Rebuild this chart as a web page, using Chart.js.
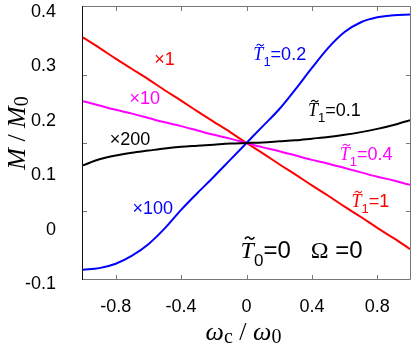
<!DOCTYPE html>
<html>
<head>
<meta charset="utf-8">
<script src="https://cdn.jsdelivr.net/npm/chart.js@4"></script>
<style>
  html, body { margin: 0; padding: 0; background: #fff; }
  #box { width: 415px; height: 345px; }
</style>
</head>
<body>
<div id="box"><canvas id="chart" width="415" height="345"></canvas></div>
<script>
// valeurs (M/M0 en fonction de wc/w0)
const xs = [-1, -0.9, -0.8, -0.7, -0.6, -0.5, -0.4, -0.3, -0.2, -0.1, 0,
            0.1, 0.2, 0.3, 0.4, 0.5, 0.6, 0.7, 0.8, 0.9, 1];
const redT1 = [0.344, 0.325, 0.305, 0.286, 0.267, 0.247, 0.228, 0.208, 0.189, 0.170, 0.150,
               0.131, 0.111, 0.092, 0.072, 0.053, 0.033, 0.014, -0.006, -0.025, -0.045];
const magentaT04 = [0.227, 0.219, 0.211, 0.204, 0.196, 0.188, 0.181, 0.173, 0.165, 0.158, 0.150,
                    0.142, 0.135, 0.127, 0.119, 0.112, 0.104, 0.096, 0.088, 0.081, 0.073];
const blackT01 = [0.109, 0.120, 0.127, 0.132, 0.136, 0.140, 0.143, 0.145, 0.147, 0.149, 0.150,
                  0.151, 0.153, 0.155, 0.158, 0.161, 0.165, 0.170, 0.176, 0.183, 0.192];
const blueT02 = [-0.083, -0.080, -0.072, -0.057, -0.036, -0.007, 0.027, 0.058, 0.088, 0.119, 0.150,
                 0.181, 0.212, 0.249, 0.288, 0.325, 0.354, 0.372, 0.381, 0.385, 0.386];

const xTicks = [-0.8, -0.4, 0, 0.4, 0.8];
const yTicks = [-0.1, 0, 0.1, 0.2, 0.3, 0.4];
const yMarks = [0.025, 0.15, 0.275];

const SANS = '"Liberation Sans", Arial, sans-serif';
const SERIF = '"Liberation Serif", "Times New Roman", serif';

// annotations : morceaux de texte ('T' = T tilde italique, 'sub' = indice, 's' = texte)
const notes = [
    { parts: [['×1', 's']], x: -0.564, y: 0.2934, color: '#ff0000' },
    { parts: [['×10', 's']], x: -0.715, y: 0.2217, color: '#ff00ff' },
    { parts: [['×200', 's']], x: -0.836, y: 0.1463, color: '#000000' },
    { parts: [['×100', 's']], x: -0.697, y: 0.0195, color: '#0000ff' },
    { parts: [['T', 'T'], ['1', 'sub'], ['=0.2', 's']], x: 0.042, y: 0.3026, color: '#0000ff' },
    { parts: [['T', 'T'], ['1', 'sub'], ['=0.1', 's']], x: 0.376, y: 0.1996, color: '#000000' },
    { parts: [['T', 'T'], ['1', 'sub'], ['=0.4', 's']], x: 0.570, y: 0.1188, color: '#ff00ff' },
    { parts: [['T', 'T'], ['1', 'sub'], ['=1', 's']], x: 0.642, y: 0.0324, color: '#ff0000' },
    { parts: [['T', 'T'], ['0', 'sub'], ['=0', 's'], ['   ', 's'], ['Ω', 'rm'], [' =0', 's']],
      x: -0.036, y: -0.0614, color: '#000000', size: 24 }
];

function fontFor(kind, size) {
    if (kind === 'T' || kind === 'it') return 'italic ' + size + 'px ' + SERIF;
    if (kind === 'rm') return size + 'px ' + SERIF;
    if (kind === 'sub') return Math.round(size * 0.7) + 'px ' + SANS;
    if (kind === 'subrm') return Math.round(size * 0.75) + 'px ' + SERIF;
    return size + 'px ' + SANS;
}

function partsWidth(ctx, parts, size) {
    let w = 0;
    parts.forEach(function (p) {
        ctx.font = fontFor(p[1], size);
        w += ctx.measureText(p[0]).width;
    });
    return w;
}

// dessine une suite de morceaux à partir de (x, y) sur la ligne de base
function drawParts(ctx, parts, x, y, size, color) {
    ctx.fillStyle = color;
    ctx.textBaseline = 'alphabetic';
    ctx.textAlign = 'left';
    parts.forEach(function (p) {
        ctx.font = fontFor(p[1], size);
        let dy = 0;
        if (p[1] === 'sub') dy = size * 0.33;
        if (p[1] === 'subrm') dy = size * 0.12;
        ctx.fillText(p[0], x, y + dy);
        let w = ctx.measureText(p[0]).width;
        if (p[1] === 'T') {
            // petite tilde au-dessus du T
            let cx = x + w * 0.68, cy = y - size * 0.83, hw = size * 0.2, amp = size * 0.07;
            ctx.save();
            ctx.strokeStyle = color;
            ctx.lineWidth = Math.max(1.1, size * 0.065);
            ctx.beginPath();
            ctx.moveTo(cx - hw, cy + amp * 0.6);
            ctx.bezierCurveTo(cx - hw * 0.5, cy - amp * 1.6, cx, cy - amp * 0.2, cx, cy);
            ctx.bezierCurveTo(cx, cy + amp * 0.2, cx + hw * 0.5, cy + amp * 1.6, cx + hw, cy - amp * 0.6);
            ctx.stroke();
            ctx.restore();
        }
        x += w;
    });
}

const frame = {
    id: 'frame',
    afterDraw(chart) {
        const ctx = chart.ctx;
        const a = chart.chartArea;
        const sx = chart.scales.x, sy = chart.scales.y;
        ctx.save();
        // cadre
        ctx.lineWidth = 1;
        ctx.strokeStyle = '#777';
        ctx.beginPath();
        ctx.moveTo(a.left, a.bottom + 0.5);
        ctx.lineTo(a.right + 0.5, a.bottom + 0.5);
        ctx.lineTo(a.right + 0.5, a.top - 0.5);
        ctx.lineTo(a.left, a.top - 0.5);
        // petites graduations vers l'intérieur
        xTicks.forEach(function (v) {
            let px = Math.round(sx.getPixelForValue(v)) + 0.5;
            ctx.moveTo(px, a.bottom);
            ctx.lineTo(px, a.bottom - 4);
            ctx.moveTo(px, a.top);
            ctx.lineTo(px, a.top + 4);
        });
        yMarks.forEach(function (v) {
            let py = Math.round(sy.getPixelForValue(v)) + 0.5;
            ctx.moveTo(a.left, py);
            ctx.lineTo(a.left + 4, py);
            ctx.moveTo(a.right, py);
            ctx.lineTo(a.right - 4, py);
        });
        ctx.stroke();
        ctx.strokeStyle = '#111';
        ctx.beginPath();
        ctx.moveTo(a.left - 0.5, a.top - 1);
        ctx.lineTo(a.left - 0.5, a.bottom + 1);
        ctx.stroke();

        // annotations
        notes.forEach(function (n) {
            drawParts(ctx, n.parts, sx.getPixelForValue(n.x), sy.getPixelForValue(n.y), n.size || 18, n.color);
        });

        // titre de l'axe x
        const xt = [['ω', 'it'], ['c', 'subrm'], [' / ', 'rm'], ['ω', 'it'], ['0', 'subrm']];
        let w = partsWidth(ctx, xt, 26);
        drawParts(ctx, xt, (a.left + a.right) / 2 - 3 - w / 2, 340, 26, '#000');

        // titre de l'axe y (tourné)
        const yt = [['M', 'it'], [' / ', 'rm'], ['M', 'it'], ['0', 'subrm']];
        w = partsWidth(ctx, yt, 26);
        ctx.translate(25, 133);
        ctx.rotate(-Math.PI / 2);
        drawParts(ctx, yt, -w / 2, 0, 26, '#000');
        ctx.restore();
    }
};

function makeSet(label, values, color) {
    return {
        label: label,
        data: xs.map(function (x, i) { return { x: x, y: values[i] }; }),
        borderColor: color,
        borderWidth: 2,
        pointRadius: 0,
        cubicInterpolationMode: 'monotone',
        fill: false
    };
}

new Chart(document.getElementById('chart').getContext('2d'), {
    type: 'line',
    data: {
        datasets: [
            makeSet('T1=0.1', blackT01, '#000000'),
            makeSet('T1=0.4', magentaT04, '#ff00ff'),
            makeSet('T1=0.2', blueT02, '#0000ff'),
            makeSet('T1=1', redT1, '#ff0000')
        ]
    },
    options: {
        responsive: false,
        animation: false,
        layout: { padding: { left: 0, top: 7, right: 5, bottom: 0 } },
        plugins: { legend: { display: false }, tooltip: { enabled: false } },
        scales: {
            x: {
                type: 'linear',
                min: -1,
                max: 1,
                afterBuildTicks: function (s) { s.ticks = xTicks.map(function (v) { return { value: v }; }); },
                afterFit: function (s) { s.height = 66; s.paddingLeft = 0; s.paddingRight = 0; },
                grid: { display: false },
                border: { display: false },
                ticks: {
                    padding: 9,
                    color: '#000',
                    maxRotation: 0,
                    font: { family: SANS, size: 18 },
                    callback: function (v) { return String(v); }
                }
            },
            y: {
                type: 'linear',
                min: -0.1,
                max: 0.4,
                afterBuildTicks: function (s) { s.ticks = yTicks.map(function (v) { return { value: v }; }); },
                afterFit: function (s) { s.width = 83; s.paddingTop = 0; s.paddingBottom = 0; },
                grid: { display: false },
                border: { display: false },
                ticks: {
                    padding: 19,
                    labelOffset: 5,
                    color: '#000',
                    font: { family: SANS, size: 18 },
                    callback: function (v) { return String(v); }
                }
            }
        }
    },
    plugins: [frame]
});
</script>
</body>
</html>
